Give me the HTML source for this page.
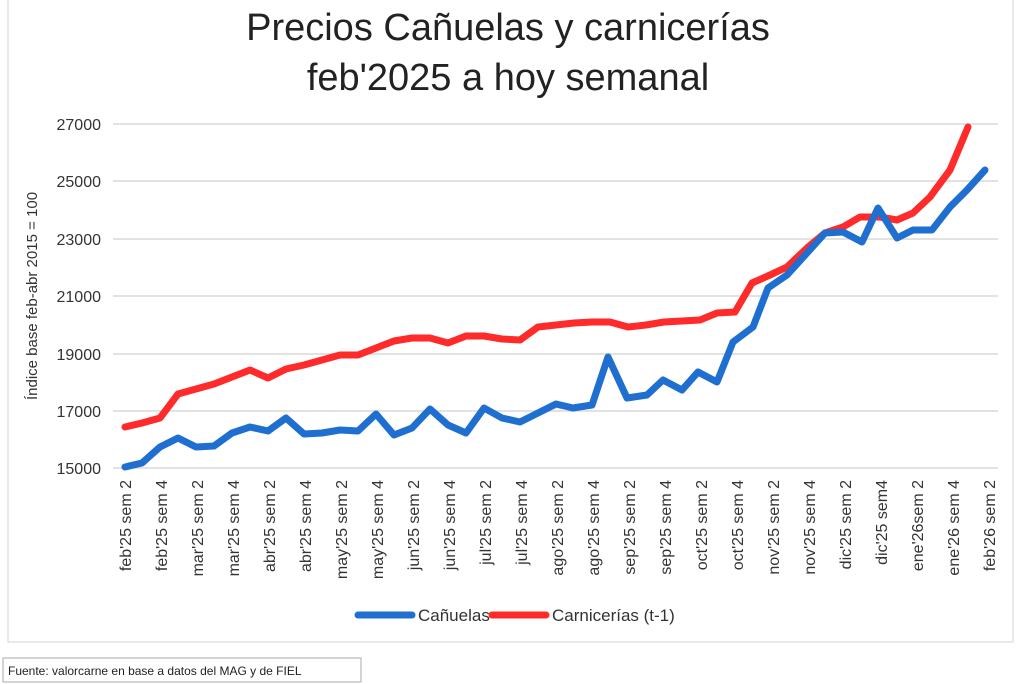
<!DOCTYPE html>
<html><head><meta charset="utf-8"><style>
body{margin:0;background:#fff;}
svg{display:block;font-family:"Liberation Sans",sans-serif;}
</style></head><body>
<svg width="1024" height="684" viewBox="0 0 1024 684">
<rect x="8" y="-2" width="1005" height="644" fill="none" stroke="#d6d6d6" stroke-width="1"/>
<text x="508" y="40" font-size="38" text-anchor="middle" fill="#222">Precios Cañuelas y carnicerías</text>
<text x="508" y="90" font-size="38" text-anchor="middle" fill="#222">feb'2025 a hoy semanal</text>
<g stroke="#d9d9d9" stroke-width="1.5">
<line x1="113" x2="998" y1="124" y2="124"/><line x1="113" x2="998" y1="181" y2="181"/>
<line x1="113" x2="998" y1="239" y2="239"/><line x1="113" x2="998" y1="296" y2="296"/>
<line x1="113" x2="998" y1="354" y2="354"/><line x1="113" x2="998" y1="411" y2="411"/>
<line x1="113" x2="998" y1="468" y2="468"/>
</g>
<g font-size="16" text-anchor="end" fill="#333">
<text x="101" y="130">27000</text><text x="101" y="187">25000</text><text x="101" y="245">23000</text>
<text x="101" y="302">21000</text><text x="101" y="360">19000</text><text x="101" y="417">17000</text>
<text x="101" y="474">15000</text>
</g>
<text transform="translate(37,296) rotate(-90)" font-size="15" text-anchor="middle" fill="#333">Índice base feb-abr 2015 = 100</text>
<g font-size="16" fill="#333" text-anchor="end" id="xl"></g>
<polyline fill="none" stroke="#ff2a2a" stroke-width="7" stroke-linejoin="round" stroke-linecap="round" points="125,427 142,423 160,418 178,394 196,389 214,384 232,377 250,370 268,378 286,369 304,365 322,360 340,355 358,355 376,348 394,341 412,338 430,338 448,343 466,336 484,336 502,339 520,340 538,327 556,325 574,323 592,322 610,322 628,327 646,325 664,322 682,321 700,320 717,313 735,312 752,283 770,275 787,267 807,248 825,233 843,227 860,217 880,217 897,220 913,213 930,197 950,170 968,127"/>
<polyline fill="none" stroke="#1f6fd0" stroke-width="7" stroke-linejoin="round" stroke-linecap="round" points="125,467 142,463 160,447 178,438 196,447 214,446 232,433 250,427 268,431 286,418 304,434 322,433 340,430 358,431 376,414 394,435 412,428 430,409 448,425 466,433 484,408 502,418 520,422 538,413 556,404 573,408 592,405 608,357 627,398 647,395 663,380 682,390 698,372 717,382 733,342 753,327 768,288 787,275 807,253 825,233 843,232 862,242 878,208 897,238 913,230 932,230 950,207 967,190 985,170"/>
<line x1="358" x2="412" y1="615" y2="615" stroke="#1f6fd0" stroke-width="7" stroke-linecap="round"/>
<text x="418" y="621" font-size="17" fill="#333">Cañuelas</text>
<line x1="492" x2="546" y1="615" y2="615" stroke="#ff2a2a" stroke-width="7" stroke-linecap="round"/>
<text x="552" y="621" font-size="17" fill="#333">Carnicerías (t-1)</text>
<rect x="3" y="658" width="358" height="24" fill="#fff" stroke="#aaa"/>
<text x="8" y="675" font-size="12" fill="#222">Fuente: valorcarne en base a datos del MAG y de FIEL</text>
</svg>
<script>
var L=["feb'25 sem 2","feb'25 sem 4","mar'25 sem 2","mar'25 sem 4","abr'25 sem 2","abr'25 sem 4","may'25 sem 2","may'25 sem 4","jun'25 sem 2","jun'25 sem 4","jul'25 sem 2","jul'25 sem 4","ago'25 sem 2","ago'25 sem 4","sep'25 sem 2","sep'25 sem 4","oct'25 sem 2","oct'25 sem 4","nov'25 sem 2","nov'25 sem 4","dic'25 sem 2","dic'25 sem4","ene'26sem 2","ene'26 sem 4","feb'26 sem 2"];
var g=document.getElementById("xl"),ns="http://www.w3.org/2000/svg";
L.forEach(function(s,i){var x=125+i*36+6;var t=document.createElementNS(ns,"text");t.setAttribute("transform","translate("+x+",480) rotate(-90)");t.textContent=s;g.appendChild(t);});
</script>
</body></html>
